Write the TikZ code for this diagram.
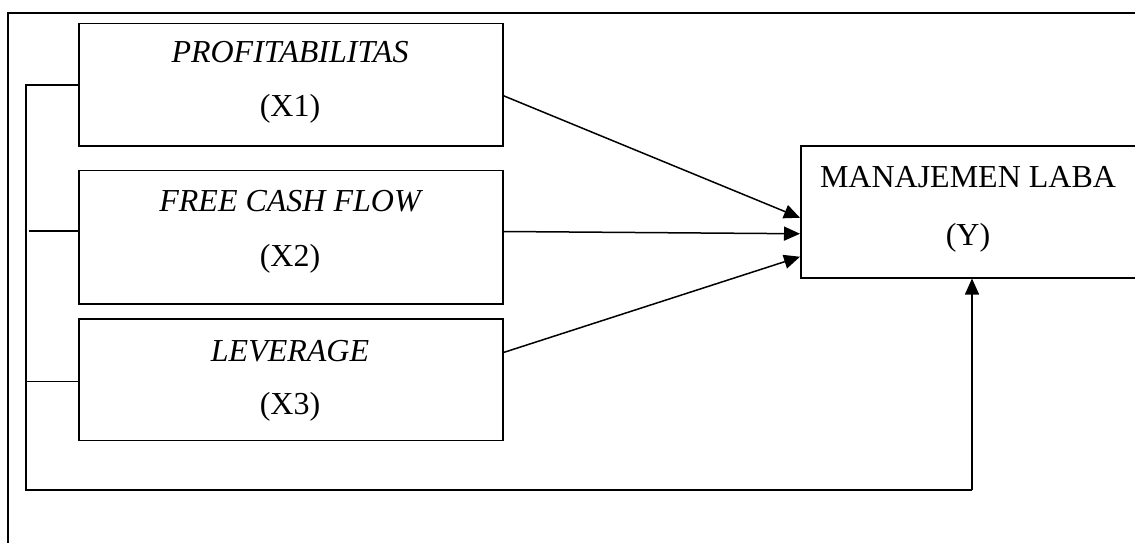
\documentclass[tikz,border=0pt]{standalone}
\usepackage{fontspec}
\setmainfont{Liberation Serif}
\usetikzlibrary{arrows.meta,calc}

\tikzset{
  varbox/.style={draw, line width=1.5pt, rectangle, inner sep=0pt, anchor=north west},
  lbl/.style={anchor=base, inner sep=0pt, font=\fontsize{32}{38}\selectfont},
  link/.style={line width=1.5pt},
  arr/.style={link, -{Triangle[length=16pt, width=14pt]}},
  frame/.style={line width=2.2pt}
}

\begin{document}
\begin{tikzpicture}[x=1pt, y=-1pt]
  \useasboundingbox (0,0) rectangle (1135,543);
  \clip (0,0) rectangle (1135,543);

  % outer frame (open on the right and at the bottom)
  \coordinate (fbot) at (8,545);
  \coordinate (fcorner) at (8,13);
  \coordinate (fright) at (1137,13);
  \draw[frame] (fbot) -- (fcorner) -- (fright);

  % independent variables
  \node[varbox, minimum width=424pt, minimum height=122pt] (b1) at (78,23) {};
  \node[varbox, minimum width=424pt, minimum height=133.5pt] (b2) at (78,169.5) {};
  \node[varbox, minimum width=424pt, minimum height=121.5pt] (b3) at (78,318) {};

  % dependent variable (runs past the right edge)
  \node[varbox, minimum width=360pt, minimum height=132pt] (yv) at (800,145) {};

  % labels
  \node[lbl] (t1a) at (290,63) {\itshape PROFITABILITAS};
  \node[lbl] (t1b) at (290,116) {(X1)};
  \node[lbl] (t2a) at (290,211) {\itshape FREE CASH FLOW};
  \node[lbl] (t2b) at (290,266) {(X2)};
  \node[lbl] (t3a) at (290,361) {\itshape LEVERAGE};
  \node[lbl] (t3b) at (290,414) {(X3)};
  \node[lbl] (tya) at (968,187) {MANAJEMEN LABA};
  \node[lbl] (tyb) at (968,245) {(Y)};

  % partial effects
  \draw[arr] ([yshift=-11pt]b1.east) -- ([yshift=-6pt]yv.west);
  \draw[arr] ([yshift=5.5pt]b2.east) -- ([yshift=-22pt]yv.west);
  \draw[arr] ([yshift=27pt]b3.east) -- ([yshift=-45pt]yv.west);

  % simultaneous effect bracket
  \coordinate (bl) at (26,490);
  \coordinate (br) at (972,490);
  \draw[link] (b1.west) -| (bl) -- (br);
  \draw[link] ([yshift=6pt]b2.west) -- ++(-49,0);
  \draw[link] ([yshift=-2pt]b3.west) -- ++(-52,0);
  \draw[arr] (br) -- (br |- yv.south);
\end{tikzpicture}
\end{document}
